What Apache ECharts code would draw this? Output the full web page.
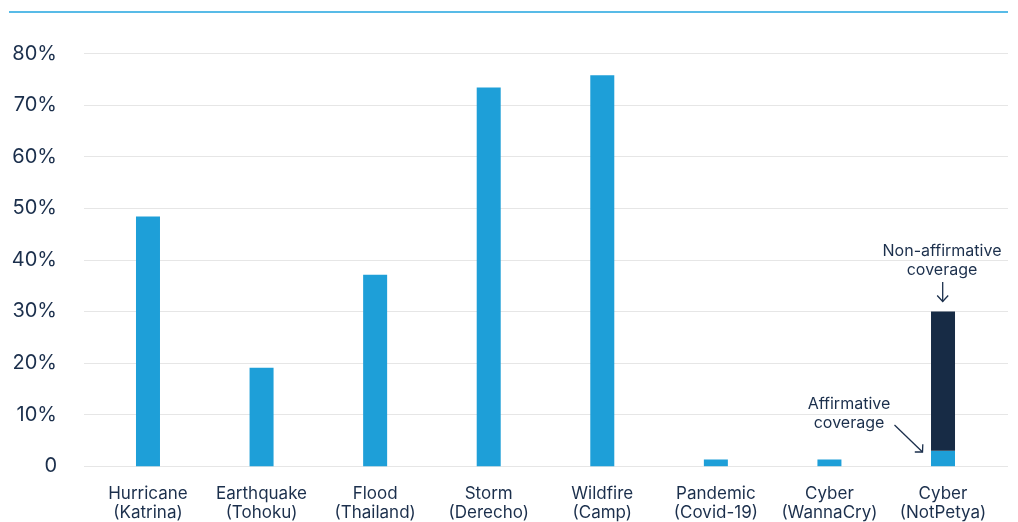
<!DOCTYPE html>
<html>
<head>
<meta charset="utf-8">
<title>Insured share of losses by catastrophe</title>
<script src="https://cdn.jsdelivr.net/npm/echarts@6/dist/echarts.min.js"></script>
<style>
  html, body { margin: 0; padding: 0; background: #ffffff; }
  #chart { width: 1018px; height: 522px; }
</style>
</head>
<body>
<div id="chart"></div>
<script>
// Event categories (two-line labels)
const categories = [
  'Hurricane\n(Katrina)',
  'Earthquake\n(Tohoku)',
  'Flood\n(Thailand)',
  'Storm\n(Derecho)',
  'Wildfire\n(Camp)',
  'Pandemic\n(Covid-19)',
  'Cyber\n(WannaCry)',
  'Cyber\n(NotPetya)'
];

// Share of loss covered (%)
const affirmative = [48.4, 19.1, 37.1, 73.4, 75.8, 1.3, 1.3, 3.0];
const nonAffirmative = [0, 0, 0, 0, 0, 0, 0, 27.0];

// Y axis ticks
const yTicks = [0, 10, 20, 30, 40, 50, 60, 70, 80];

const FONT = 'Inter, "Noto Sans", sans-serif';
const TEXT = '#1b2f4c';
const BLUE = '#1e9fd8';
const NAVY = '#172b45';

const chart = echarts.init(document.getElementById('chart'), null, { renderer: 'canvas' });

const yMin = yTicks[0];
const yMax = yTicks[yTicks.length - 1];
const yStep = yTicks[1] - yTicks[0];

chart.setOption({
  animation: false,
  backgroundColor: '#ffffff',
  grid: [
    // grid for the value scale and its gridlines (full width)
    { left: 84, right: 10, top: 53.5, bottom: 55.8, outerBoundsMode: 'none' },
    // grid for the bars (inset category band)
    { left: 91.2, right: 18.2, top: 53.5, bottom: 55.8, outerBoundsMode: 'none' }
  ],
  xAxis: [
    { gridIndex: 0, type: 'category', data: categories, show: false },
    {
      gridIndex: 1,
      type: 'category',
      data: categories,
      axisLine: { show: false },
      axisTick: { show: false },
      axisLabel: {
        margin: 18.5,
        fontFamily: FONT,
        fontSize: 17,
        lineHeight: 19,
        color: TEXT,
        interval: 0
      }
    }
  ],
  yAxis: [
    {
      gridIndex: 0,
      type: 'value',
      min: yMin,
      max: yMax,
      interval: yStep,
      axisLine: { show: false },
      axisTick: { show: false },
      splitLine: { lineStyle: { color: '#e6e6e6', width: 1.2 } },
      axisLabel: {
        margin: 27,
        fontFamily: FONT,
        fontSize: 20,
        color: TEXT,
        formatter: v => (v === 0 ? '0' : v + '%')
      }
    },
    {
      gridIndex: 1,
      type: 'value',
      min: yMin,
      max: yMax,
      interval: yStep,
      show: false,
      splitLine: { show: false }
    }
  ],
  series: [
    {
      name: 'Affirmative coverage',
      type: 'bar',
      xAxisIndex: 1,
      yAxisIndex: 1,
      stack: 'cover',
      barWidth: 24,
      itemStyle: { color: BLUE },
      data: affirmative
    },
    {
      name: 'Non-affirmative coverage',
      type: 'bar',
      xAxisIndex: 1,
      yAxisIndex: 1,
      stack: 'cover',
      barWidth: 24,
      itemStyle: { color: NAVY },
      data: nonAffirmative
    }
  ],
  graphic: [
    // rule across the top
    {
      type: 'line',
      shape: { x1: 9, y1: 12, x2: 1008, y2: 12 },
      style: { stroke: '#20a4df', lineWidth: 1.5 }
    },
    // non-affirmative note and arrow
    {
      type: 'text',
      x: 942, y: 261,
      style: {
        text: 'Non-affirmative\ncoverage',
        fontFamily: FONT, fontSize: 16, lineHeight: 19,
        fill: TEXT, align: 'center', verticalAlign: 'middle'
      }
    },
    {
      type: 'line',
      shape: { x1: 942.7, y1: 282, x2: 942.7, y2: 301.5 },
      style: { stroke: TEXT, lineWidth: 1.3 }
    },
    {
      type: 'polyline',
      shape: { points: [[937.2, 295.5], [942.7, 301.5], [948.2, 295.5]] },
      style: { stroke: TEXT, lineWidth: 1.3, fill: null }
    },
    // affirmative note and arrow
    {
      type: 'text',
      x: 849, y: 413.5,
      style: {
        text: 'Affirmative\ncoverage',
        fontFamily: FONT, fontSize: 16, lineHeight: 19,
        fill: TEXT, align: 'center', verticalAlign: 'middle'
      }
    },
    {
      type: 'line',
      shape: { x1: 894.5, y1: 425, x2: 922.5, y2: 452 },
      style: { stroke: TEXT, lineWidth: 1.3 }
    },
    {
      type: 'polyline',
      shape: { points: [[922.8, 444.2], [922.5, 452], [914.8, 452]] },
      style: { stroke: TEXT, lineWidth: 1.3, fill: null }
    }
  ]
});
</script>
</body>
</html>
